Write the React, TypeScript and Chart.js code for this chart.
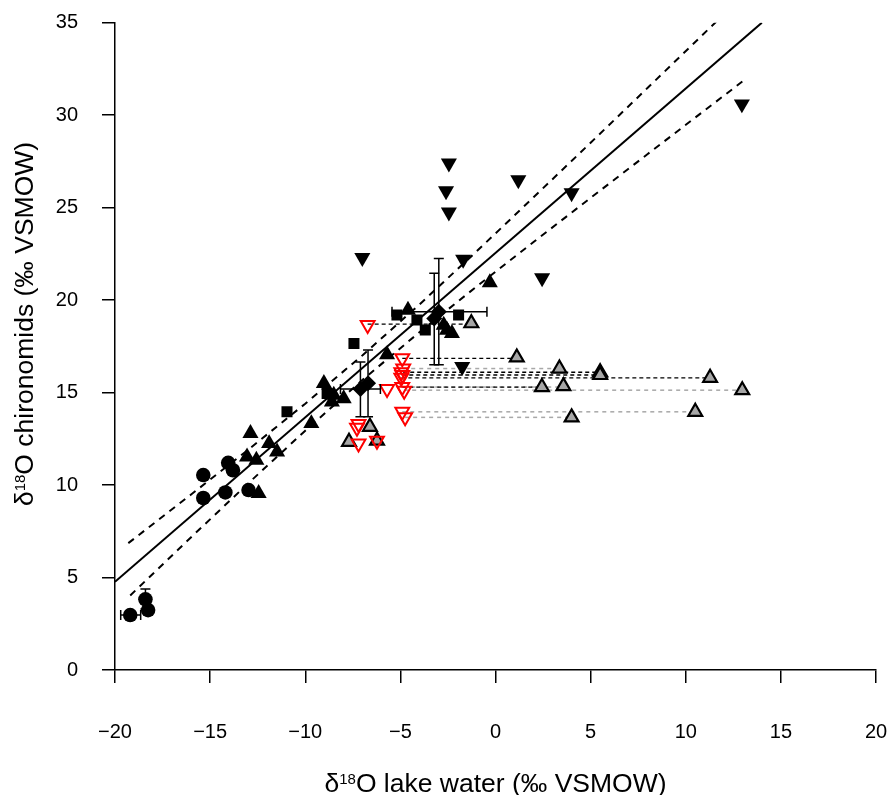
import React, { useEffect, useRef } from 'react';
import { Chart, registerables } from 'chart.js';
Chart.register(...registerables);

const FONT = '"Liberation Sans", Arial, Helvetica, sans-serif';

// ---- tick labels ----
const xTickLabels = ['−20', '−15', '−10', '−5', '0', '5', '10', '15', '20'];
const yTickLabels = ['0', '5', '10', '15', '20', '25', '30', '35'];

// ---- axis titles (parts: [text, isSuperscript]) ----
const xTitleParts: [string, boolean][] = [['δ', false], ['18', true], ['O lake water (‰ VSMOW)', false]];
const yTitleParts: [string, boolean][] = [['δ', false], ['18', true], ['O chironomids (‰ VSMOW)', false]];

// ---- black filled circles ----
const circleX = [-19.2, -18.4, -18.26, -15.36, -15.36, -14.2, -14.05, -13.8, -12.98];
const circleY = [2.97, 3.82, 3.24, 10.54, 9.3, 9.6, 11.2, 10.8, 9.73];

// ---- black filled triangles (up) ----
const triUpX = [-12.88, -11.9, -11.48, -13.06, -12.57, -12.45, -9.68, -9.02, -8.5, -7.98, -8.6, -5.7, -4.6, -0.3, -2.72, -2.55, -2.29];
const triUpY = [12.8, 12.25, 11.8, 11.53, 11.35, 9.55, 13.33, 15.5, 14.86, 14.68, 14.5, 17.05, 19.46, 20.95, 18.65, 18.38, 18.2];

// ---- black filled squares ----
const squareX = [-10.96, -7.44, -5.18, -4.13, -3.69, -1.94, -8.85];
const squareY = [13.96, 17.66, 19.19, 18.92, 18.38, 19.19, 14.95];

// ---- black filled diamonds ----
const diamondX = [-7.1, -6.7, -3.22, -2.98];
const diamondY = [15.2, 15.5, 19.0, 19.37];

// ---- black filled triangles (down) ----
const triDownX = [-7.0, -2.45, -2.6, -2.45, 1.2, 4.0, -1.7, 2.45, 12.95, -1.75];
const triDownY = [22.3, 27.4, 25.9, 24.75, 26.5, 25.8, 22.2, 21.2, 30.6, 16.4];

// ---- red open triangles (down) ----
const redX = [-6.72, -4.9, -4.85, -4.95, -4.9, -4.95, -4.9, -4.8, -5.7, -4.9, -4.75, -7.2, -7.28, -7.2, -6.23];
const redY = [18.65, 16.85, 16.3, 16.1, 15.95, 15.8, 15.3, 15.1, 15.2, 13.96, 13.66, 13.3, 13.1, 12.25, 12.4];

// ---- grey triangles (up) ----
const greyX = [-1.27, 1.12, 3.36, 5.5, 5.5, 11.28, 2.44, 3.57, 12.97, 10.5, 4.0, -6.6, -7.7, -6.23];
const greyY = [18.75, 16.9, 16.3, 16.1, 15.95, 15.8, 15.3, 15.35, 15.13, 13.96, 13.66, 13.15, 12.34, 12.4];

// ---- connectors (black dashed) ----
const connBlackY = [18.7, 16.85, 16.1, 15.95, 15.8, 15.3];
const connBlackX1 = [-6.72, -4.9, -4.85, -4.9, -4.95, -4.9];
const connBlackX2 = [-1.27, 1.12, 5.5, 5.5, 11.28, 2.44];
// ---- connectors (grey dashed) ----
const connGreyY = [16.3, 15.3, 15.13, 13.96, 13.66];
const connGreyX1 = [-4.85, -4.85, -4.8, -4.9, -4.75];
const connGreyX2 = [3.36, 3.57, 12.97, 10.5, 4.0];

// ---- error bars ----
const ebX = [-19.2, -18.4, -7.1, -6.7, -3.22, -2.98];
const ebY = [2.97, 3.82, 15.2, 15.5, 19.0, 19.37];
const ebXMin = [-19.7, null, -8.15, null, null, -5.44];
const ebXMax = [-18.65, null, -6.05, null, null, -0.45];
const ebYMin = [null, 3.3, 13.7, 13.7, 16.5, 16.5];
const ebYMax = [null, 4.38, 16.65, 17.3, 21.45, 22.25];

// ---- regression line and confidence band ----
const regX = [-20, 14.0];
const regY = [4.77, 35.0];
const upperX = [-19.3, -16, -13, -10, -7, -4, -1, 2, 5, 8, 11.6];
const upperY = [6.86, 9.49, 11.91, 14.4, 17.01, 19.76, 22.63, 25.56, 28.51, 31.48, 35.05];
const lowerX = [-19.2, -16, -13, -10, -7, -4, -1, 2, 5, 8, 13];
const lowerY = [4.03, 7.18, 10.09, 12.94, 15.68, 18.26, 20.73, 23.14, 25.53, 27.9, 31.84];

const pts = (xs: number[], ys: number[]) => xs.map((x, i) => ({ x, y: ys[i] }));

function drawParts(ctx: CanvasRenderingContext2D, parts: [string, boolean][], cx: number, y: number) {
  const mainFont = `26.5px ${FONT}`;
  const supFont = `15px ${FONT}`;
  let total = 0;
  const widths = parts.map(([t, sup]) => {
    ctx.font = sup ? supFont : mainFont;
    const w = ctx.measureText(t).width;
    total += w;
    return w;
  });
  let x = cx - total / 2;
  ctx.textAlign = 'left';
  ctx.textBaseline = 'alphabetic';
  ctx.fillStyle = '#000';
  parts.forEach(([t, sup], i) => {
    ctx.font = sup ? supFont : mainFont;
    ctx.fillText(t, x, sup ? y - 8 : y);
    x += widths[i];
  });
}

const overlayPlugin = {
  id: 'overlay',
  beforeDatasetsDraw(chart: any) {
    const ctx = chart.ctx as CanvasRenderingContext2D;
    const xs = chart.scales.x, ys = chart.scales.y;
    const drawConn = (yv: number[], x1: number[], x2: number[], color: string, dash: number[], lw: number) => {
      ctx.save();
      ctx.strokeStyle = color;
      ctx.lineWidth = lw;
      ctx.setLineDash(dash);
      yv.forEach((y, i) => {
        const py = ys.getPixelForValue(y);
        ctx.beginPath();
        ctx.moveTo(xs.getPixelForValue(x1[i]), py);
        ctx.lineTo(xs.getPixelForValue(x2[i]), py);
        ctx.stroke();
      });
      ctx.restore();
    };
    drawConn(connGreyY, connGreyX1, connGreyX2, '#a8a8a8', [4, 4], 1.5);
    drawConn(connBlackY, connBlackX1, connBlackX2, '#000', [4, 3], 1.3);
  },
  afterDatasetsDraw(chart: any) {
    const ctx = chart.ctx as CanvasRenderingContext2D;
    const xs = chart.scales.x, ys = chart.scales.y;
    ctx.save();
    ctx.strokeStyle = '#000';
    ctx.lineWidth = 1.5;
    const cap = 5;
    ebX.forEach((xv, i) => {
      const px = xs.getPixelForValue(xv), py = ys.getPixelForValue(ebY[i]);
      const x0 = ebXMin[i], x1 = ebXMax[i], y0 = ebYMin[i], y1 = ebYMax[i];
      ctx.beginPath();
      if (x0 !== null && x1 !== null) {
        const a = xs.getPixelForValue(x0), b = xs.getPixelForValue(x1);
        ctx.moveTo(a, py); ctx.lineTo(b, py);
        ctx.moveTo(a, py - cap); ctx.lineTo(a, py + cap);
        ctx.moveTo(b, py - cap); ctx.lineTo(b, py + cap);
      }
      if (y0 !== null && y1 !== null) {
        const a = ys.getPixelForValue(y0), b = ys.getPixelForValue(y1);
        ctx.moveTo(px, a); ctx.lineTo(px, b);
        ctx.moveTo(px - cap, a); ctx.lineTo(px + cap, a);
        ctx.moveTo(px - cap, b); ctx.lineTo(px + cap, b);
      }
      ctx.stroke();
    });
    ctx.restore();
  },
  afterDraw(chart: any) {
    const ctx = chart.ctx as CanvasRenderingContext2D;
    const a = chart.chartArea;
    ctx.save();
    drawParts(ctx, xTitleParts, (a.left + a.right) / 2, 792);
    ctx.translate(33, 324);
    ctx.rotate(-Math.PI / 2);
    drawParts(ctx, yTitleParts, 0, 0);
    ctx.restore();
  },
};

export default function App() {
  const ref = useRef<HTMLCanvasElement>(null);
  useEffect(() => {
    if (!ref.current) return;
    const lineDs = (data: any, dash: number[]) => ({
      type: 'scatter' as const,
      data,
      showLine: true,
      borderColor: '#000',
      borderWidth: 2,
      borderDash: dash,
      pointRadius: 0,
      fill: false,
      order: 20,
    });
    const chart = new Chart(ref.current, {
      type: 'scatter',
      data: {
        datasets: [
          lineDs(pts(regX, regY), []),
          lineDs(pts(upperX, upperY), [7, 6]),
          lineDs(pts(lowerX, lowerY), [7, 6]),
          {
            data: pts(greyX, greyY), pointStyle: 'triangle', pointRadius: 8,
            backgroundColor: '#a6a6a6', borderColor: '#000', borderWidth: 2.2, order: 6,
          },
          {
            data: pts(redX, redY), pointStyle: 'triangle', rotation: 180, pointRadius: 8,
            backgroundColor: 'rgba(255,255,255,0)', borderColor: '#ff0000', borderWidth: 2, order: 5,
          },
          {
            data: pts(circleX, circleY), pointStyle: 'circle', pointRadius: 7.3,
            backgroundColor: '#000', borderColor: '#000', borderWidth: 0, order: 3,
          },
          {
            data: pts(triUpX, triUpY), pointStyle: 'triangle', pointRadius: 9.3,
            backgroundColor: '#000', borderColor: '#000', borderWidth: 0, order: 3,
          },
          {
            data: pts(squareX, squareY), pointStyle: 'rect', pointRadius: 7.8,
            backgroundColor: '#000', borderColor: '#000', borderWidth: 0, order: 3,
          },
          {
            data: pts(diamondX, diamondY), pointStyle: 'rectRot', pointRadius: 8,
            backgroundColor: '#000', borderColor: '#000', borderWidth: 0, order: 3,
          },
          {
            data: pts(triDownX, triDownY), pointStyle: 'triangle', rotation: 180, pointRadius: 9.3,
            backgroundColor: '#000', borderColor: '#000', borderWidth: 0, order: 3,
          },
        ] as any,
      },
      options: {
        animation: false,
        responsive: true,
        maintainAspectRatio: false,
        events: [],
        layout: { padding: { left: 0, right: 15, top: 22.7, bottom: 0 } },
        plugins: { legend: { display: false }, tooltip: { enabled: false } },
        scales: {
          x: {
            type: 'linear', min: -20, max: 20,
            ticks: {
              stepSize: 5, color: '#000', padding: 37,
              font: { family: FONT, size: 20 },
              callback: (_v: any, i: number) => xTickLabels[i],
            },
            grid: { display: true, drawOnChartArea: false, drawTicks: true, tickLength: 13, color: '#000', lineWidth: 1.5 },
            border: { display: true, color: '#000', width: 1.5 },
            afterFit: (s: any) => { s.height = 125; s.paddingLeft = 0; s.paddingRight = 0; },
          },
          y: {
            type: 'linear', min: 0, max: 35,
            ticks: {
              stepSize: 5, color: '#000', padding: 24,
              font: { family: FONT, size: 20 },
              callback: (_v: any, i: number) => yTickLabels[i],
            },
            grid: { display: true, drawOnChartArea: false, drawTicks: true, tickLength: 13, color: '#000', lineWidth: 1.5 },
            border: { display: true, color: '#000', width: 1.5 },
            afterFit: (s: any) => { s.width = 115; s.paddingTop = 0; s.paddingBottom = 0; },
          },
        },
      } as any,
      plugins: [overlayPlugin],
    });
    return () => chart.destroy();
  }, []);
  return (
    <div style={{ position: 'fixed', left: 0, top: 0, width: 891, height: 795, background: '#fff' }}>
      <canvas ref={ref} />
    </div>
  );
}
